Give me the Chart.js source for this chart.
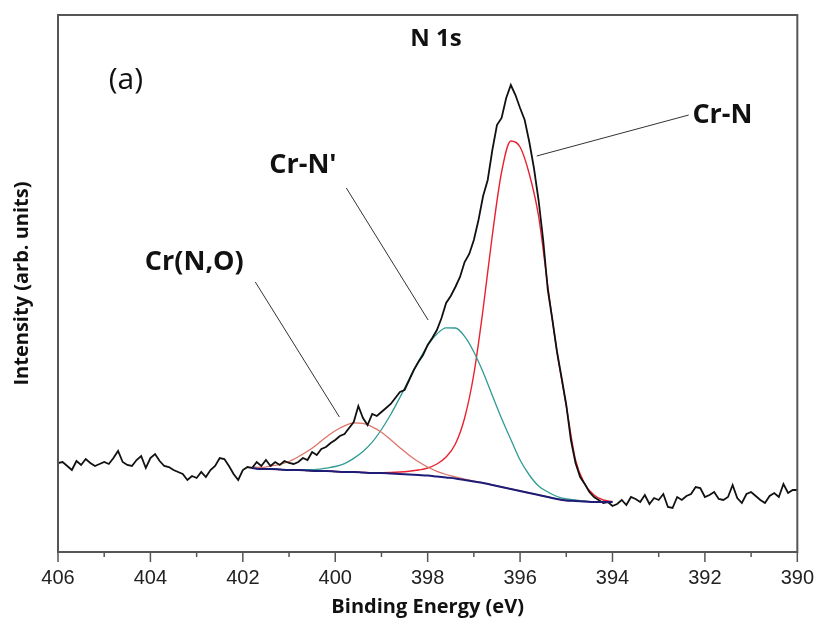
<!DOCTYPE html>
<html>
<head>
<meta charset="utf-8">
<title>N 1s XPS</title>
<script src="https://cdn.jsdelivr.net/npm/chart.js"></script>
<style>
  html, body { margin: 0; padding: 0; background: #fff; }
  #wrap { width: 828px; height: 633px; }
</style>
</head>
<body>
<div id="wrap"><canvas id="xpsChart" width="828" height="633"></canvas></div>
<script>
  // raw spectrum, 406.0 -> 390.0 eV every 0.1 eV
  const specStart = 406, specStep = 0.1;
  const spectrum = [
    89, 90, 86, 82, 91, 87, 93, 89, 86, 88,
    90, 88, 94, 101, 90, 87, 86, 92, 96, 84,
    94, 98, 91, 86, 85, 82, 80, 78, 72, 76,
    74, 80, 75, 82, 86, 94, 93, 86, 78, 72,
    82, 85, 84, 90, 86, 92, 86, 90, 87, 91,
    89, 88, 90, 94, 92, 100, 97, 103, 105, 109,
    112, 116, 118, 124, 130, 146, 134, 127, 138, 136,
    140, 144, 148, 154, 160, 162, 172, 182, 190, 197,
    207, 214, 222, 234, 249, 256, 265, 275, 290, 298,
    312, 332, 356, 372, 402, 427, 434, 454, 467, 457,
    444, 432, 410, 384, 352, 312, 262, 232, 200, 174,
    147, 112, 89, 75, 68, 60, 55, 52, 49, 50,
    46, 48, 52, 47, 55, 53, 50, 57, 48, 54,
    52, 58, 45, 44, 55, 52, 56, 58, 65, 64,
    55, 57, 60, 53, 52, 55, 67, 54, 49, 58,
    60, 56, 52, 49, 56, 59, 55, 68, 59, 62,
    62
  ];

  // fitted curves, 401.8 -> 394.0 eV every 0.2 eV
  const fitStart = 401.8, fitStep = 0.2;
  const background = [
    84, 83, 83, 82.5, 82, 82, 81.5, 81, 81, 80.5,
    80, 80, 79.5, 79, 79, 78.5, 78, 77.5, 77, 76.5,
    75.5, 74.5, 73.5, 72, 70.5, 69, 67, 65, 63, 61,
    59, 57, 55, 53, 51.5, 51, 50.5, 50, 50, 50
  ];
  const crNO = [
    85, 84.6, 86, 87.7, 90.5, 95.2, 100.7, 107.3, 114.8, 121.2,
    126.1, 129.1, 128.6, 125.1, 119.7, 112.3, 104.3, 96.7, 90.2, 85,
    80.7, 77.5, 75.1, 72.8, 70.9, 69.2, 67.1, 65, 63, 61,
    59, 57, 55, 53, 51.5, 51, 50.5, 50, 50, 50
  ];
  const crNprime = [
    84, 83, 83, 82.6, 82.2, 82.2, 82.3, 82.6, 83.9, 85.5,
    88.4, 93.6, 100.4, 109.8, 122.5, 137.5, 154.6, 172.8, 190.7, 206.5,
    218, 224.1, 224, 215.6, 200, 179.7, 156.4, 133.4, 112.5, 92,
    77, 66, 60, 55.5, 53, 52, 51, 50.2, 50, 50
  ];
  const crN = [
    84, 83, 83, 82.5, 82, 82, 81.5, 81, 81, 80.5,
    80, 80, 79.5, 79.2, 79.3, 79.5, 80, 80.8, 82, 84,
    88, 95, 108, 134, 178, 243, 317, 380, 411, 405,
    378, 336, 266, 200, 146, 92, 68, 57, 52, 50.5
  ];

  // labels and leader lines, in (eV, intensity)
  const labels = [
    { text: '(a)', e: 404.53, v: 472, bold: false, size: 30 },
    { text: 'N 1s', e: 397.82, v: 513, bold: true, size: 24 },
    { text: 'Cr-N', e: 391.62, v: 437, bold: true, size: 27 },
    { text: "Cr-N'", e: 400.70, v: 387, bold: true, size: 27 },
    { text: 'Cr(N,O)', e: 403.05, v: 290, bold: true, size: 27 }
  ];
  const leaders = [
    [395.64, 396, 392.35, 437],
    [399.76, 364, 397.99, 232],
    [401.73, 270, 399.91, 135]
  ];

  const toPoints = (vals, start, step) => vals.map((v, i) => ({ x: +(start - i * step).toFixed(2), y: v }));

  const decor = {
    id: 'decor',
    afterDatasetsDraw(chart) {
      const { ctx, chartArea: a, scales: { x, y } } = chart;
      ctx.save();
      ctx.strokeStyle = '#555';
      ctx.lineWidth = 2;
      ctx.strokeRect(a.left, a.top, a.right - a.left, a.bottom - a.top);
      // major / minor ticks below the axis
      ctx.lineWidth = 1.5;
      for (let e = 390; e <= 406; e++) {
        const px = x.getPixelForValue(e);
        const len = e % 2 === 0 ? 10 : 5;
        ctx.beginPath();
        ctx.moveTo(px, a.bottom);
        ctx.lineTo(px, a.bottom + len);
        ctx.stroke();
      }
      ctx.strokeStyle = '#333';
      ctx.lineWidth = 1;
      leaders.forEach(l => {
        ctx.beginPath();
        ctx.moveTo(x.getPixelForValue(l[0]), y.getPixelForValue(l[1]));
        ctx.lineTo(x.getPixelForValue(l[2]), y.getPixelForValue(l[3]));
        ctx.stroke();
      });
      ctx.fillStyle = '#111';
      ctx.textAlign = 'center';
      ctx.textBaseline = 'middle';
      labels.forEach(t => {
        ctx.font = (t.bold ? 'bold ' : '') + t.size + 'px "Open Sans"';
        ctx.fillText(t.text, x.getPixelForValue(t.e), y.getPixelForValue(t.v));
      });
      ctx.restore();
    }
  };

  const line = (label, data, color, width, order, smooth) => ({
    label, data, borderColor: color, borderWidth: width, order,
    pointRadius: 0, fill: false,
    cubicInterpolationMode: smooth ? 'monotone' : 'default', tension: 0
  });

  new Chart(document.getElementById('xpsChart'), {
    type: 'line',
    data: {
      datasets: [
        line('N 1s', toPoints(spectrum, specStart, specStep), '#111', 1.8, 1, false),
        line('Background', toPoints(background, fitStart, fitStep), '#1d1d78', 2, 0, true),
        line('Cr(N,O)', toPoints(crNO, fitStart, fitStep), '#dc7468', 1.3, 2, true),
        line("Cr-N'", toPoints(crNprime, fitStart, fitStep), '#2f9b93', 1.3, 2, true),
        line('Cr-N', toPoints(crN, fitStart, fitStep), '#e8222e', 1.4, 2, true)
      ]
    },
    options: {
      responsive: false,
      animation: false,
      devicePixelRatio: 1,
      layout: { padding: { top: 15, right: 21, left: 0, bottom: 0 } },
      plugins: { legend: { display: false }, tooltip: { enabled: false } },
      scales: {
        x: {
          type: 'linear', reverse: true, min: 390, max: 406,
          grid: { display: false, drawTicks: false },
          border: { display: false },
          ticks: { stepSize: 2, color: '#222', padding: 14, maxRotation: 0,
                   font: { family: 'Liberation Sans', size: 20 } },
          title: { display: true, text: 'Binding Energy (eV)', color: '#111',
                   font: { family: 'Open Sans', size: 20, weight: 'bold' },
                   padding: { top: 0, bottom: 14 } },
          afterFit: s => { s.height = 81; }
        },
        y: {
          min: 0, max: 537,
          grid: { display: false, drawTicks: false },
          border: { display: false },
          ticks: { display: false },
          title: { display: true, text: 'Intensity (arb. units)', color: '#111',
                   font: { family: 'Open Sans', size: 20, weight: 'bold' },
                   padding: { top: 10, bottom: 0 } },
          afterFit: s => { s.width = 58; }
        }
      }
    },
    plugins: [decor]
  });
</script>
</body>
</html>
